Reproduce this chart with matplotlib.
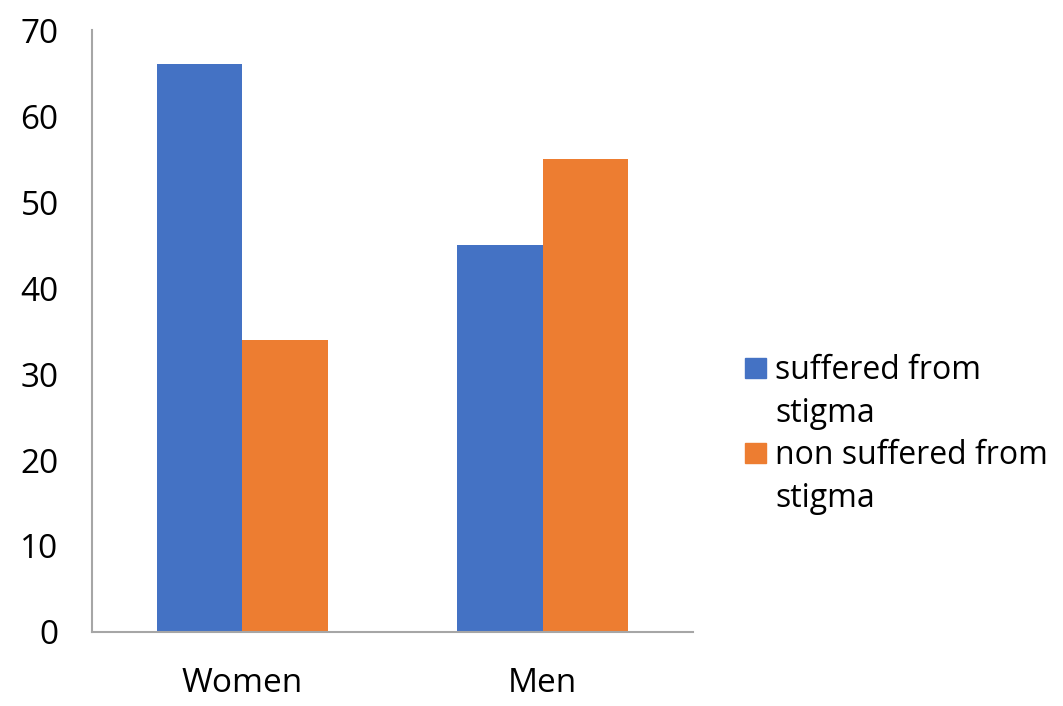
import numpy as np
import matplotlib
matplotlib.use('Agg')
import matplotlib.pyplot as plt
from matplotlib.patches import Rectangle

plt.rcParams['font.family'] = ['Open Sans', 'DejaVu Sans']

# data
categories = ['Women', 'Men']
suffered = [66, 45]
non_suffered = [34, 55]
series_labels = ['suffered from\nstigma', 'non suffered from\nstigma']
y_ticks = [0, 10, 20, 30, 40, 50, 60, 70]

colors = ['#4472C4', '#ED7D31']

W, H = 1063, 706
fig = plt.figure(figsize=(W / 100, H / 100), dpi=100)
ax = fig.add_axes([92 / W, 1 - 632 / H, 601 / W, 602 / H])

x = np.arange(len(categories))
w = 0.285
ax.bar(x - w / 2, suffered, width=w, color=colors[0])
ax.bar(x + w / 2, non_suffered, width=w, color=colors[1])

ax.set_xlim(-0.5, 1.5)
ax.set_ylim(0, 70)
ax.set_yticks(y_ticks)
ax.set_xticks(x)
ax.set_xticklabels(categories)

for s in ['top', 'right']:
    ax.spines[s].set_visible(False)
for s in ['left', 'bottom']:
    ax.spines[s].set_color('#A6A6A6')
    ax.spines[s].set_linewidth(1.5)

ax.tick_params(axis='both', length=0, labelsize=24)
ax.tick_params(axis='y', pad=24)
ax.tick_params(axis='x', pad=25)

# legend drawn by hand so the square lines up with the first text line
leg_top = [358, 443]
for i, lab in enumerate(series_labels):
    y0 = leg_top[i]
    fig.patches.append(Rectangle((745 / W, 1 - (y0 + 20) / H), 21 / W, 20 / H,
                                 transform=fig.transFigure, color=colors[i]))
    for j, line in enumerate(lab.split('\n')):
        fig.text(775 / W, 1 - (y0 + 21 + 43 * j) / H, line, fontsize=23,
                 ha='left', va='baseline')

fig.savefig('out.png', dpi=100)
